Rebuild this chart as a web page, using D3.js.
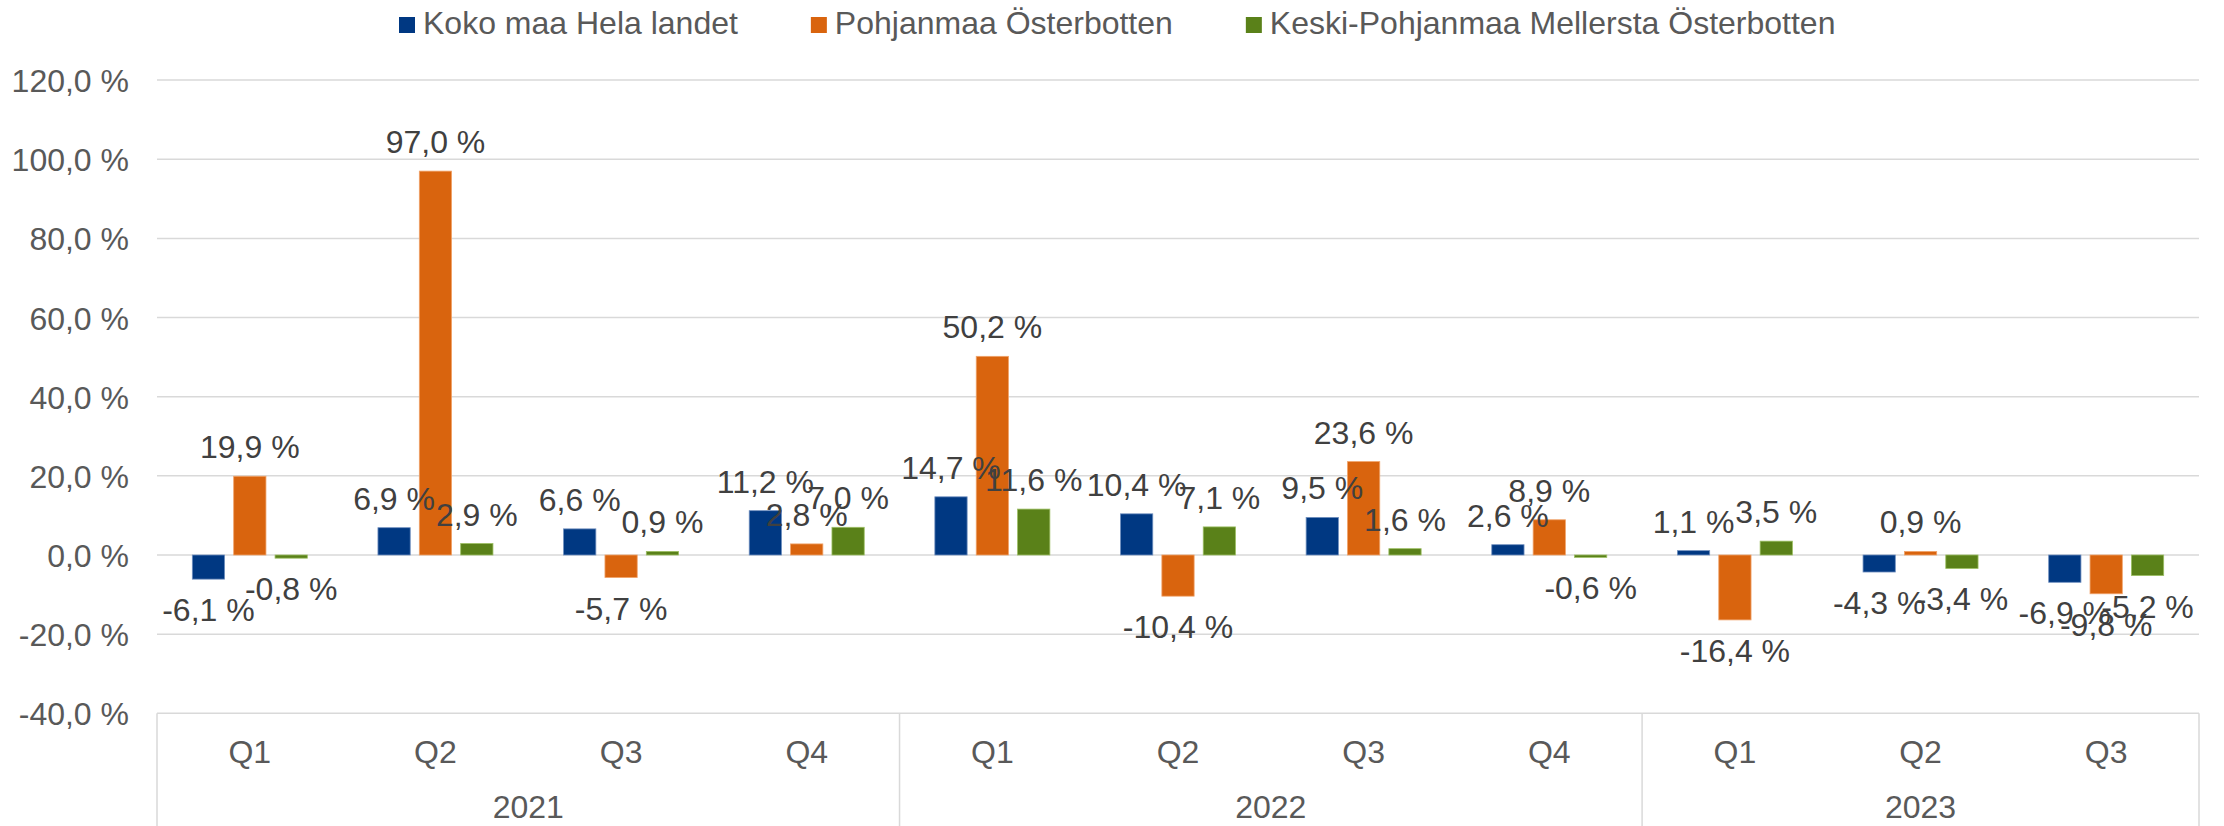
<!DOCTYPE html>
<html>
<head>
<meta charset="utf-8">
<script src="https://cdn.jsdelivr.net/npm/d3@7"></script>
<style>
  body { margin: 0; background: #fff; }
  svg { display: block; font-family: "Liberation Sans", Arial, sans-serif; }
</style>
</head>
<body>
<svg id="chart" width="2224" height="826"></svg>
<script>
// categories
const quarters = ["Q1", "Q2", "Q3", "Q4", "Q1", "Q2", "Q3", "Q4", "Q1", "Q2", "Q3"];
const years = ["2021", "2022", "2023"];
const quartersPerYear = [4, 4, 3];

// series
const seriesNames = ["Koko maa Hela landet", "Pohjanmaa Österbotten", "Keski-Pohjanmaa Mellersta Österbotten"];
const kokoMaa = [-6.1, 6.9, 6.6, 11.2, 14.7, 10.4, 9.5, 2.6, 1.1, -4.3, -6.9];
const pohjanmaa = [19.9, 97.0, -5.7, 2.8, 50.2, -10.4, 23.6, 8.9, -16.4, 0.9, -9.8];
const keskiPohjanmaa = [-0.8, 2.9, 0.9, 7.0, 11.6, 7.1, 1.6, -0.6, 3.5, -3.4, -5.2];

const yTicks = [-40, -20, 0, 20, 40, 60, 80, 100, 120];

const colors = ["#003882", "#d9640e", "#5a8119"];
const edgeColors = ["#6f8fbf", "#f0a36a", "#9cbf63"];

const fmt = v => v.toFixed(1).replace(".", ",") + " %";
const fontSize = "32px";

const svg = d3.select("#chart");
const left = 157, right = 2199;

const keys = quarters.map((q, i) => i);
const allSeries = [kokoMaa, pohjanmaa, keskiPohjanmaa];

const x0 = d3.scaleBand()
    .domain(keys)
    .range([left, right])
    .padding(0);

const bw = x0.bandwidth();
const groupW = 115;
const x1 = d3.scaleBand()
    .domain([0, 1, 2])
    .range([(bw - groupW) / 2, (bw + groupW) / 2])
    .paddingInner(0.22);

const y = d3.scaleLinear()
    .domain([-40, 120])
    .range([713.3, 80.1]);

// gridlines
svg.append("g")
    .selectAll("line")
    .data(yTicks.filter(t => t !== -40))
    .enter()
    .append("line")
    .attr("x1", left)
    .attr("x2", right)
    .attr("y1", d => y(d))
    .attr("y2", d => y(d))
    .attr("stroke", "#d9d9d9")
    .attr("stroke-width", 1.5);

// y axis labels
const yAxis = d3.axisLeft(y)
    .tickValues(yTicks)
    .tickSize(0)
    .tickPadding(0)
    .tickFormat(fmt);

const yG = svg.append("g")
    .attr("transform", `translate(129,0)`)
    .call(yAxis);
yG.select(".domain").remove();
yG.selectAll("text")
    .attr("fill", "#595959")
    .style("font-size", fontSize)
    .style("font-family", "'Liberation Sans', Arial, sans-serif")
    .attr("dy", "0.36em");

// bars
allSeries.forEach((vals, s) => {
    svg.append("g")
        .selectAll("rect")
        .data(vals)
        .enter()
        .append("rect")
        .attr("x", (d, i) => x0(i) + x1(s))
        .attr("y", d => y(Math.max(0, d)))
        .attr("width", x1.bandwidth())
        .attr("height", d => Math.abs(y(d) - y(0)))
        .attr("fill", colors[s])
        .attr("stroke", edgeColors[s])
        .attr("stroke-width", 0.8);
});

// data labels
allSeries.forEach((vals, s) => {
    svg.append("g")
        .selectAll("text")
        .data(vals)
        .enter()
        .append("text")
        .attr("x", (d, i) => x0(i) + x1(s) + x1.bandwidth() / 2)
        .attr("y", d => d >= 0 ? y(d) - 18 : y(d) + 42)
        .attr("text-anchor", "middle")
        .attr("fill", "#404040")
        .style("font-size", fontSize)
        .text(d => fmt(d));
});

// category axis (two levels)
const axisY = y(-40);
svg.append("line")
    .attr("x1", left).attr("x2", right)
    .attr("y1", axisY).attr("y2", axisY)
    .attr("stroke", "#d9d9d9")
    .attr("stroke-width", 1.5);

let idx = 0;
const yearBounds = quartersPerYear.map(n => {
    const b = { start: idx, end: idx + n - 1 };
    idx += n;
    return b;
});

const sepX = [left].concat(yearBounds.map(b => x0(b.end) + bw));
svg.append("g")
    .selectAll("line")
    .data(sepX)
    .enter()
    .append("line")
    .attr("x1", d => d).attr("x2", d => d)
    .attr("y1", axisY).attr("y2", 826)
    .attr("stroke", "#d9d9d9")
    .attr("stroke-width", 1.5);

svg.append("g")
    .selectAll("text")
    .data(quarters)
    .enter()
    .append("text")
    .attr("x", (d, i) => x0(i) + bw / 2)
    .attr("y", 763)
    .attr("text-anchor", "middle")
    .attr("fill", "#595959")
    .style("font-size", fontSize)
    .text(d => d);

svg.append("g")
    .selectAll("text")
    .data(years)
    .enter()
    .append("text")
    .attr("x", (d, i) => (x0(yearBounds[i].start) + x0(yearBounds[i].end) + bw) / 2)
    .attr("y", 818)
    .attr("text-anchor", "middle")
    .attr("fill", "#595959")
    .style("font-size", fontSize)
    .text(d => d);

// legend
const legend = svg.append("g");
let lx = 399;
seriesNames.forEach((name, s) => {
    legend.append("rect")
        .attr("x", lx)
        .attr("y", 17)
        .attr("width", 16)
        .attr("height", 16)
        .attr("fill", colors[s]);
    const t = legend.append("text")
        .attr("x", lx + 24)
        .attr("y", 34)
        .attr("fill", "#595959")
        .style("font-size", fontSize)
        .text(name);
    lx += 24 + t.node().getComputedTextLength() + 73;
});
</script>
</body>
</html>
